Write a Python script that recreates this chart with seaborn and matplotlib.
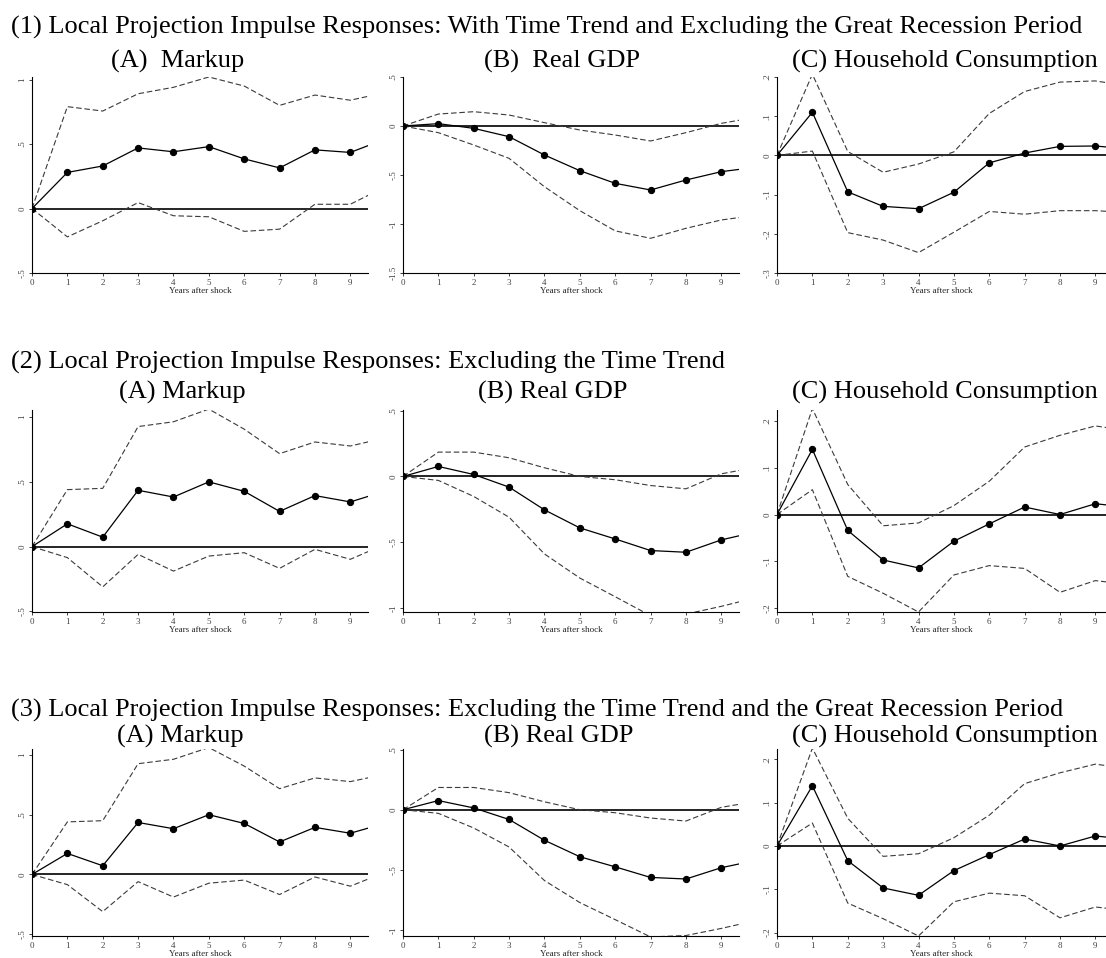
import numpy as np
import pandas as pd
import seaborn as sns
import matplotlib.pyplot as plt

sns.set_theme(style="ticks")
plt.rcParams["font.family"] = ["Liberation Serif", "DejaVu Serif"]

# horizons (last point sits just past the right edge of each panel)
years = [0, 1, 2, 3, 4, 5, 6, 7, 8, 9, 10]

# ---- (1) with time trend, excluding the Great Recession ----
markup1 = [0, 0.28, 0.33, 0.47, 0.44, 0.48, 0.385, 0.315, 0.455, 0.435, 0.54]
markup1_hi = [0, 0.79, 0.756, 0.89, 0.94, 1.02, 0.95, 0.80, 0.88, 0.84, 0.90]
markup1_lo = [0, -0.22, -0.095, 0.046, -0.056, -0.064, -0.177, -0.16, 0.033, 0.033, 0.17]

gdp1 = [0, 0.024, -0.024, -0.109, -0.296, -0.456, -0.585, -0.653, -0.551, -0.466, -0.42]
gdp1_hi = [0, 0.122, 0.146, 0.112, 0.034, -0.041, -0.092, -0.153, -0.068, 0.027, 0.09]
gdp1_lo = [0, -0.068, -0.194, -0.33, -0.62, -0.864, -1.07, -1.146, -1.044, -0.959, -0.91]

cons1 = [0, 0.11, -0.093, -0.13, -0.136, -0.094, -0.019, 0.006, 0.023, 0.024, 0.016]
cons1_hi = [0, 0.207, 0.01, -0.043, -0.022, 0.009, 0.107, 0.163, 0.187, 0.19, 0.176]
cons1_lo = [0, 0.011, -0.197, -0.216, -0.248, -0.196, -0.143, -0.15, -0.141, -0.141, -0.146]

# ---- (2) excluding the time trend ----
markup2 = [0, 0.176, 0.073, 0.435, 0.383, 0.50, 0.427, 0.272, 0.394, 0.345, 0.43]
markup2_hi = [0, 0.44, 0.45, 0.927, 0.964, 1.062, 0.907, 0.718, 0.808, 0.777, 0.84]
markup2_lo = [0, -0.085, -0.311, -0.06, -0.189, -0.073, -0.047, -0.168, -0.021, -0.098, 0.02]

gdp2 = [0, 0.076, 0.015, -0.081, -0.254, -0.391, -0.475, -0.563, -0.576, -0.482, -0.42]
gdp2_hi = [0, 0.185, 0.185, 0.142, 0.066, 0.0, -0.025, -0.069, -0.094, 0.02, 0.07]
gdp2_lo = [0, -0.03, -0.152, -0.31, -0.589, -0.772, -0.914, -1.058, -1.046, -0.987, -0.92]

cons2 = [0, 0.139, -0.034, -0.097, -0.114, -0.057, -0.02, 0.016, 0.0, 0.023, 0.015]
cons2_hi = [0, 0.226, 0.064, -0.024, -0.018, 0.019, 0.071, 0.144, 0.169, 0.189, 0.178]
cons2_lo = [0, 0.053, -0.132, -0.168, -0.208, -0.129, -0.109, -0.115, -0.166, -0.141, -0.15]

# ---- (3) excluding time trend and Great Recession (reads the same as (2)) ----
markup3 = [0, 0.176, 0.073, 0.435, 0.383, 0.50, 0.427, 0.272, 0.394, 0.345, 0.43]
markup3_hi = [0, 0.44, 0.45, 0.927, 0.964, 1.062, 0.907, 0.718, 0.808, 0.777, 0.84]
markup3_lo = [0, -0.085, -0.311, -0.06, -0.189, -0.073, -0.047, -0.168, -0.021, -0.098, 0.02]

gdp3 = [0, 0.076, 0.015, -0.081, -0.254, -0.391, -0.475, -0.563, -0.576, -0.482, -0.42]
gdp3_hi = [0, 0.185, 0.185, 0.142, 0.066, 0.0, -0.025, -0.069, -0.094, 0.02, 0.07]
gdp3_lo = [0, -0.03, -0.152, -0.31, -0.589, -0.772, -0.914, -1.058, -1.046, -0.987, -0.92]

cons3 = [0, 0.139, -0.034, -0.097, -0.114, -0.057, -0.02, 0.016, 0.0, 0.023, 0.015]
cons3_hi = [0, 0.226, 0.064, -0.024, -0.018, 0.019, 0.071, 0.144, 0.169, 0.189, 0.178]
cons3_lo = [0, 0.053, -0.132, -0.168, -0.208, -0.129, -0.109, -0.115, -0.166, -0.141, -0.15]

row_titles = [
    "(1) Local Projection Impulse Responses: With Time Trend and Excluding the Great Recession Period",
    "(2) Local Projection Impulse Responses: Excluding the Time Trend",
    "(3) Local Projection Impulse Responses: Excluding the Time Trend and the Great Recession Period",
]
panel_titles = [
    ["(A)  Markup", "(B)  Real GDP", "(C) Household Consumption"],
    ["(A) Markup", "(B) Real GDP", "(C) Household Consumption"],
    ["(A) Markup", "(B) Real GDP", "(C) Household Consumption"],
]

# y tick labels, Stata style
markup_ticks = [-0.5, 0, 0.5, 1]
markup_labels = ["-.5", "0", ".5", "1"]
gdp1_ticks = [-1.5, -1, -0.5, 0, 0.5]
gdp1_labels = ["-1.5", "-1", "-.5", "0", ".5"]
gdp_ticks = [-1, -0.5, 0, 0.5]
gdp_labels = ["-1", "-.5", "0", ".5"]
cons1_ticks = [-0.3, -0.2, -0.1, 0, 0.1, 0.2]
cons1_labels = ["-.3", "-.2", "-.1", "0", ".1", ".2"]
cons_ticks = [-0.2, -0.1, 0, 0.1, 0.2]
cons_labels = ["-.2", "-.1", "0", ".1", ".2"]

series = [
    [(markup1, markup1_hi, markup1_lo), (gdp1, gdp1_hi, gdp1_lo), (cons1, cons1_hi, cons1_lo)],
    [(markup2, markup2_hi, markup2_lo), (gdp2, gdp2_hi, gdp2_lo), (cons2, cons2_hi, cons2_lo)],
    [(markup3, markup3_hi, markup3_lo), (gdp3, gdp3_hi, gdp3_lo), (cons3, cons3_hi, cons3_lo)],
]
yticks = [
    [(markup_ticks, markup_labels), (gdp1_ticks, gdp1_labels), (cons1_ticks, cons1_labels)],
    [(markup_ticks, markup_labels), (gdp_ticks, gdp_labels), (cons_ticks, cons_labels)],
    [(markup_ticks, markup_labels), (gdp_ticks, gdp_labels), (cons_ticks, cons_labels)],
]
ylims = [
    [(-0.5, 1.02), (-1.5, 0.5), (-0.3, 0.2)],
    [(-0.505, 1.055), (-1.03, 0.505), (-0.208, 0.223)],
    [(-0.515, 1.05), (-1.05, 0.505), (-0.208, 0.224)],
]

### layout (pixels) ###
W, H = 1106, 958
row_box = [(77, 273), (410, 612), (749, 936)]
col_box = [(32, 368, 9.5), (403, 739, 9.5), (777, 1106, 9.3)]
title_y = [27, 362, 710]
sub_y = [61, 392, 736]
sub_x = [[178, 562, 945], [182, 553, 945], [180, 559, 945]]

fig = plt.figure(figsize=(W / 100, H / 100), dpi=100)

for r in range(3):
    fig.text(11 / W, 1 - title_y[r] / H, row_titles[r], ha="left", va="center",
             fontsize=19, color="black")
    top, bottom = row_box[r]
    for c in range(3):
        left, right, xmax = col_box[c]
        ax = fig.add_axes([left / W, 1 - bottom / H, (right - left) / W, (bottom - top) / H])
        irf, hi, lo = series[r][c]
        df = pd.DataFrame({"year": years, "irf": irf, "hi": hi, "lo": lo})

        ax.axhline(0, color="black", lw=1.2, zorder=1)
        sns.lineplot(data=df, x="year", y="hi", ax=ax, color="#3a3a3a", lw=0.8,
                     linestyle=(0, (5, 2.5)))
        sns.lineplot(data=df, x="year", y="lo", ax=ax, color="#3a3a3a", lw=0.8,
                     linestyle=(0, (5, 2.5)))
        sns.lineplot(data=df, x="year", y="irf", ax=ax, color="black", lw=0.9,
                     marker="o", markersize=4.5, markeredgecolor="black")

        ax.set_xlim(0, xmax)
        ax.set_ylim(*ylims[r][c])
        ax.set_xticks(range(10))
        ticks, labels = yticks[r][c]
        ax.set_yticks(ticks)
        ax.set_yticklabels(labels)
        ax.tick_params(axis="both", length=2.5, width=0.6, pad=1.5,
                       labelsize=6.5, labelcolor="#444444", color="#222222")
        ax.tick_params(axis="y", labelrotation=90)
        for lab in ax.get_yticklabels():
            lab.set_va("center")
        ax.set_xlabel("Years after shock", fontsize=6.5, labelpad=0, color="#222222")
        ax.set_ylabel("")
        sns.despine(ax=ax)
        for s in ["left", "bottom"]:
            ax.spines[s].set_linewidth(0.8)
            ax.spines[s].set_color("black")
        ax.set_facecolor("white")

        fig.text(sub_x[r][c] / W, 1 - sub_y[r] / H, panel_titles[r][c], ha="center",
                 va="center", fontsize=19, color="black")

plt.savefig("out.png", dpi=100, facecolor="white")
